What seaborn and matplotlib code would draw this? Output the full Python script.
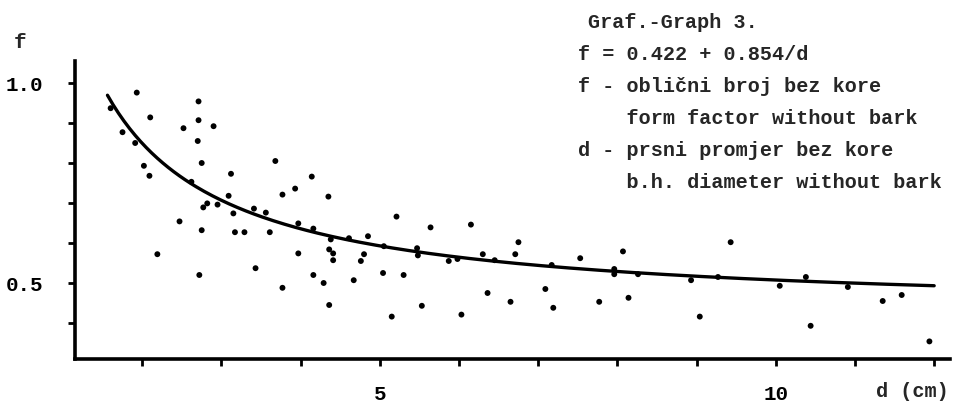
import numpy as np
import pandas as pd
import matplotlib
matplotlib.use("Agg")
import matplotlib.pyplot as plt
from matplotlib.ticker import FixedLocator, FixedFormatter
import seaborn as sns

# Measured trees: breast-height diameter without bark (cm) and form factor
diameter = [
    1.60, 1.93, 1.75, 1.91, 2.10, 2.02, 2.09, 2.71, 2.71, 2.52,
    2.90, 2.70, 2.75, 2.47, 2.75, 3.12, 3.09, 3.68, 4.14, 3.77,
    3.93, 4.35, 2.82, 2.77, 2.95, 3.15, 3.41, 3.56, 3.97, 4.16,
    3.17, 3.29, 3.61, 2.62, 2.19, 2.72, 5.21, 5.64, 6.15, 4.61,
    4.85, 4.38, 5.05, 5.47, 4.36, 4.41, 4.41, 4.80, 4.76, 5.48,
    5.98, 6.30, 6.45, 6.71, 6.75, 5.87, 7.17, 7.53, 8.07, 7.96,
    7.96, 4.16, 4.29, 4.67, 5.04, 5.30, 4.36, 5.53, 5.15, 6.03,
    6.36, 6.65, 7.09, 7.19, 7.77, 8.14, 9.43, 8.26, 8.93, 9.27,
    10.38, 10.91, 10.05, 11.59, 11.35, 9.04, 10.44, 11.94, 3.97, 3.43,
    3.77,
]
form_factor = [
    0.937, 0.976, 0.877, 0.850, 0.914, 0.793, 0.768, 0.954, 0.907, 0.887,
    0.892, 0.855, 0.800, 0.654, 0.632, 0.773, 0.718, 0.805, 0.766, 0.721,
    0.736, 0.716, 0.699, 0.689, 0.696, 0.674, 0.686, 0.676, 0.649, 0.636,
    0.627, 0.627, 0.627, 0.753, 0.572, 0.520, 0.666, 0.639, 0.646, 0.612,
    0.617, 0.609, 0.592, 0.587, 0.584, 0.574, 0.557, 0.572, 0.555, 0.569,
    0.560, 0.572, 0.557, 0.572, 0.602, 0.555, 0.545, 0.562, 0.579, 0.535,
    0.522, 0.520, 0.500, 0.507, 0.525, 0.520, 0.445, 0.443, 0.416, 0.421,
    0.475, 0.453, 0.485, 0.438, 0.453, 0.463, 0.602, 0.522, 0.507, 0.515,
    0.515, 0.490, 0.493, 0.470, 0.455, 0.416, 0.393, 0.354, 0.574, 0.537,
    0.488,
]

# Regression f = a + b/d
coef_a = 0.422
coef_b = 0.854
curve_start, curve_end = 1.56, 12.0

x_ticks = [2, 3, 4, 5, 6, 7, 8, 9, 10, 11, 12]
x_labels = {5: "5", 10: "10"}
y_ticks = [0.4, 0.5, 0.6, 0.7, 0.8, 0.9, 1.0]
y_labels = {0.5: "0.5", 1.0: "1.0"}

legend_lines = [
    "Graf.-Graph 3.",
    "f = 0.422 + 0.854/d",
    "f - oblični broj bez kore",
    "    form factor without bark",
    "d - prsni promjer bez kore",
    "    b.h. diameter without bark",
]

sns.set_style("white")
plt.rcParams["font.family"] = ["Liberation Mono", "DejaVu Sans Mono"]
plt.rcParams["font.weight"] = "bold"

points = pd.DataFrame({"d": diameter, "f": form_factor})
d_grid = np.linspace(curve_start, curve_end, 300)
fit = pd.DataFrame({"d": d_grid, "f": coef_a + coef_b / d_grid})

fig = plt.figure(figsize=(9.65, 4.10), dpi=100)
ax = fig.add_axes([75 / 965, 1 - 360 / 410, 875 / 965, 298 / 410])

sns.lineplot(data=fit, x="d", y="f", ax=ax, color="black", linewidth=2.4)
sns.scatterplot(data=points, x="d", y="f", ax=ax, color="black", s=18,
                edgecolor="none")

ax.set_xlim(1.15, 12.2)
ax.set_ylim(0.31, 1.055)

for side in ("top", "right"):
    ax.spines[side].set_visible(False)
for side in ("left", "bottom"):
    ax.spines[side].set_linewidth(2.6)
    ax.spines[side].set_color("black")

ax.xaxis.set_major_locator(FixedLocator(x_ticks))
ax.xaxis.set_major_formatter(FixedFormatter([x_labels.get(t, "") for t in x_ticks]))
ax.yaxis.set_major_locator(FixedLocator(y_ticks))
ax.yaxis.set_major_formatter(FixedFormatter([y_labels.get(t, "") for t in y_ticks]))
ax.tick_params(axis="both", direction="out", length=5, width=2, color="black",
               labelsize=15, labelcolor="black", bottom=True, left=True)
ax.tick_params(axis="x", pad=13)
ax.tick_params(axis="y", pad=18)
ax.set_xlabel("")
ax.set_ylabel("")

# Axis names
fig.text(20 / 965, 1 - 42 / 410, "f", fontsize=15, fontweight="bold",
         ha="center", va="center")
fig.text(912 / 965, 1 - 392 / 410, "d (cm)", fontsize=14.5, fontweight="bold",
         ha="center", va="center")

# Caption block
line_y = [22, 54, 86, 118, 150, 183]
for i, (txt, yy) in enumerate(zip(legend_lines, line_y)):
    xx = 588 if i == 0 else 578
    fig.text(xx / 965, 1 - yy / 410, txt, fontsize=14.5, fontweight="bold",
             ha="left", va="center")

fig.savefig("out.png", dpi=100, facecolor="white")
